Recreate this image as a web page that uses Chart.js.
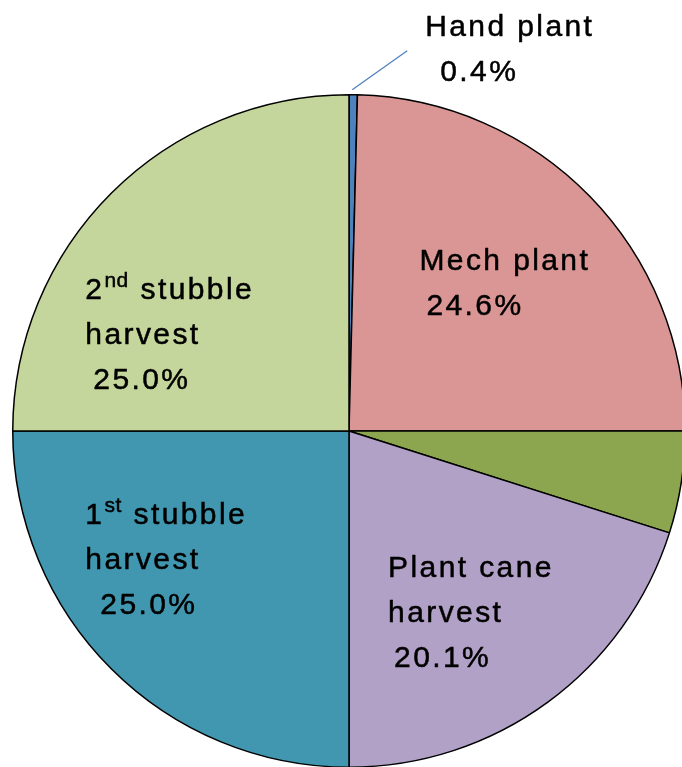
<!DOCTYPE html>
<html>
<head>
<meta charset="utf-8">
<script src="https://cdn.jsdelivr.net/npm/chart.js@4"></script>
<style>
  html, body { margin: 0; padding: 0; background: #fff; overflow: hidden; }
  #wrap { position: absolute; left: 0; top: 0; width: 698px; height: 862px; }
</style>
</head>
<body>
<div id="wrap"><canvas id="myChart" width="698" height="862"></canvas></div>
<script>
// slices go clockwise from 12 o'clock
const categories = ['Hand plant', 'Mech plant', '', 'Plant cane harvest', '1st stubble harvest', '2nd stubble harvest'];
const shares = [0.4, 24.6, 4.9, 20.1, 25.0, 25.0];
const valueLabels = ['0.4%', '24.6%', '', '20.1%', '25.0%', '25.0%'];
const labelLines = [
    ['Hand plant'],
    ['Mech plant'],
    [],
    ['Plant cane', 'harvest'],
    ['1^st stubble', 'harvest'],
    ['2^nd stubble', 'harvest']
];
const sliceColors = ['#4f81bd', '#d99694', '#8ba64f', '#b2a1c7', '#4197b0', '#c4d69b'];

// label placement relative to the slice centroid (at rf of the radius)
const labelLayout = [
    { rf: 1.0, dx: 72, dy: -67, indent: 15, leader: true },
    { rf: 0.6, dx: -74, dy: -28, indent: 7 },
    null,
    { rf: 0.6, dx: -80, dy: -25, indent: 6 },
    { rf: 0.6, dx: -121, dy: -58, indent: 15 },
    { rf: 0.6, dx: -121, dy: 2, indent: 8 }
];

const FONT = 'Liberation Sans, Arial, sans-serif';
const LINE_H = 45;

function txt(ctx, s, x, y) {
    ctx.strokeText(s, x, y);
    ctx.fillText(s, x, y);
}

function drawRich(ctx, text, x, y) {
    // "2^nd stubble" -> 2 + superscript nd + " stubble"
    let m = text.match(/^(\d+)\^([a-z]+)(.*)$/);
    ctx.font = '30px ' + FONT;
    ctx.letterSpacing = '2.4px';
    if (!m) {
        txt(ctx, text, x, y);
        return;
    }
    txt(ctx, m[1], x, y);
    x += ctx.measureText(m[1]).width;
    ctx.font = '21px ' + FONT;
    ctx.letterSpacing = '0.5px';
    txt(ctx, m[2], x, y - 9);
    x += ctx.measureText(m[2]).width + 1;
    ctx.font = '30px ' + FONT;
    ctx.letterSpacing = '2.4px';
    txt(ctx, m[3], x, y);
}

const sliceLabels = {
    id: 'sliceLabels',
    afterDatasetsDraw(chart) {
        const ctx = chart.ctx;
        const meta = chart.getDatasetMeta(0);
        ctx.save();
        ctx.fillStyle = '#000';
        ctx.strokeStyle = '#000';
        ctx.lineWidth = 0.5;
        ctx.textBaseline = 'middle';
        ctx.textAlign = 'left';
        meta.data.forEach((arc, i) => {
            const lay = labelLayout[i];
            if (!lay) return;
            const p = arc.getProps(['x', 'y', 'startAngle', 'endAngle', 'outerRadius'], true);
            const mid = (p.startAngle + p.endAngle) / 2;
            const ax = p.x + Math.cos(mid) * p.outerRadius * lay.rf;
            const ay = p.y + Math.sin(mid) * p.outerRadius * lay.rf;
            const lx = ax + lay.dx;
            let ly = ay + lay.dy;
            if (lay.leader) {
                ctx.save();
                ctx.strokeStyle = '#4f81bd';
                ctx.lineWidth = 1.3;
                ctx.beginPath();
                ctx.moveTo(ax - 1, ay - 5);
                ctx.lineTo(lx - 18, ly + 23);
                ctx.stroke();
                ctx.restore();
            }
            labelLines[i].forEach(t => {
                drawRich(ctx, t, lx, ly);
                ly += LINE_H;
            });
            ctx.font = '30px ' + FONT;
            ctx.letterSpacing = '2.4px';
            txt(ctx, valueLabels[i], lx + lay.indent, ly);
        });
        ctx.restore();
    }
};

const ctx = document.getElementById('myChart');
const data = {
    labels: categories,
    datasets: [{
        data: shares,
        backgroundColor: sliceColors,
        borderColor: '#000',
        borderWidth: 1.5
    }]
};

const config = {
    type: 'pie',
    data: data,
    options: {
        responsive: false,
        animation: false,
        layout: {
            padding: { left: 12, right: 12, top: 94, bottom: 94 }
        },
        plugins: {
            legend: { display: false },
            tooltip: { enabled: false }
        }
    },
    plugins: [sliceLabels]
};

chart = new Chart(ctx, config);
</script>
</body>
</html>
